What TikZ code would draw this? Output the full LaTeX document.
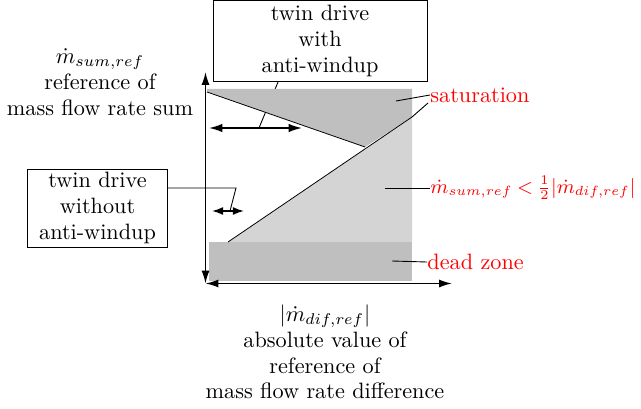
\documentclass[tikz,border=0pt]{standalone}
\usetikzlibrary{arrows.meta}
\begin{document}
\begin{tikzpicture}[x=0.45pt,y=-0.45pt,
  txt/.style={align=center,inner sep=0pt,font=\fontsize{10}{11.6}\selectfont},
  rtxt/.style={text=red,anchor=west,inner sep=0pt},
  boxnode/.style={draw,line width=0.4pt,align=center,inner sep=0pt},
  axis/.style={line width=0.7pt,{Latex[length=5.8pt,width=3.6pt]}-{Latex[length=5.8pt,width=3.6pt]}},
  darr/.style={line width=0.7pt,{Latex[length=6pt,width=3.8pt]}-{Latex[length=6pt,width=3.8pt]}},
  sarr/.style={line width=0.7pt,{Latex[length=5pt,width=3.6pt]}-{Latex[length=5pt,width=3.6pt]}},
  lead/.style={line width=0.4pt},
  darkfill/.style={fill=black!25},
  lightfill/.style={fill=black!17}]
\useasboundingbox (0,0) rectangle (641,409);

% coordinates
\coordinate (O) at (205.5,283.5);
\coordinate (ytop) at (205.5,72);
\coordinate (xend) at (452,283.5);
\coordinate (sat1) at (396,101);
\coordinate (sat2) at (412,117);
\coordinate (mid) at (385,188);
\coordinate (dz) at (392,261);
\coordinate (a1l) at (209,128);
\coordinate (a1r) at (302,128);
\coordinate (a1m) at (259,128);
\coordinate (a2l) at (212,211);
\coordinate (a2r) at (244,211);
\coordinate (a2m) at (230,211);
\coordinate (k2) at (236,188);

% boxes
\node[boxnode,minimum width=96.3pt,minimum height=36.6pt,txt] (bw) at (320,41) {twin drive\\with\\anti-windup};
\node[boxnode,minimum width=62.6pt,minimum height=35.1pt,txt] (bwo) at (97.5,208) {twin drive\\without\\anti-windup};

% leader from box with anti-windup (partly hidden by fill)
\draw[lead] (bw.south -| 278,0) -- (a1m);

% fills
\fill[darkfill] (207,89) -- (412,89) -- (sat2) -- (365,147) -- (207,92) -- cycle;
\fill[lightfill] (228,242) -- (sat2) -- (412,242) -- cycle;
\fill[darkfill] (209,242) rectangle (412,281);
\draw[line width=0.35pt] (207,92) -- (365,147);
\draw[line width=0.35pt] (228,242) -- (sat2);

% axes
\draw[axis] (O) -- (ytop);
\draw[axis] (O) -- (xend);

% arrows
\draw[darr] (a1l) -- (a1r);
\draw[sarr] (a2l) -- (a2r);
\draw[lead] (bwo.east |- k2) -- (k2) -- (a2m);

% axis labels
\node[txt] (ylab) at (100,82) {$\dot m_{sum,ref}$\\reference of\\mass flow rate sum};
\node[txt] (xlab) at (325,352) {$|\dot m_{dif,ref}|$\\absolute value of\\reference of\\mass flow rate difference};

% red labels
\node[rtxt] (satl) at (430,95) {saturation};
\node[rtxt,font=\fontsize{9}{10}\selectfont] (cond) at (430,188) {\thickmuskip=4mu$\dot m_{sum,ref}<\frac{1}{2}|\dot m_{dif,ref}|$};
\node[rtxt] (dzl) at (427,262) {dead zone};
\draw[lead] (satl.west) -- (sat1);
\draw[lead] (satl.west) ++(-2,8) -- (sat2);
\draw[lead] (cond.west) -- (mid);
\draw[lead] (dzl.west) -- (dz);
\end{tikzpicture}
\end{document}
